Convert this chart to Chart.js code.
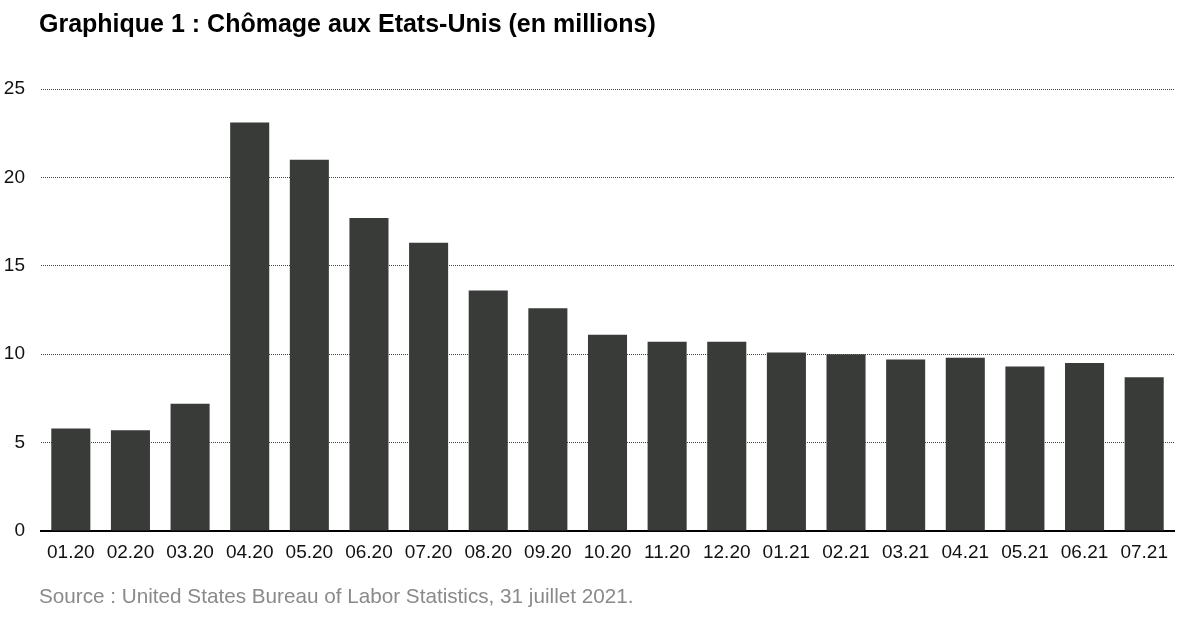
<!DOCTYPE html>
<html>
<head>
<meta charset="utf-8">
<script src="https://cdn.jsdelivr.net/npm/chart.js@4"></script>
<style>
  body { margin: 0; background: #fff; font-family: "Liberation Sans", Arial, sans-serif; }
  #wrap { position: relative; width: 1180px; height: 621px; }
  #title { position: absolute; left: 39px; top: 9px; font-size: 25px; font-weight: bold; color: #000; }
  #source { position: absolute; left: 39px; top: 584px; font-size: 20.7px; color: #8a8a8a; }
  canvas { position: absolute; left: 0; top: 0; }
</style>
</head>
<body>
<div id="wrap">
  <canvas id="chart1" width="1180" height="621"></canvas>
  <div id="title">Graphique 1 : Chômage aux Etats-Unis (en millions)</div>
  <div id="source">Source : United States Bureau of Labor Statistics, 31 juillet 2021.</div>
</div>
<script>
const months = ['01.20', '02.20', '03.20', '04.20', '05.20', '06.20', '07.20', '08.20', '09.20', '10.20',
                '11.20', '12.20', '01.21', '02.21', '03.21', '04.21', '05.21', '06.21', '07.21'];
const chomage = [5.8, 5.7, 7.2, 23.1, 21.0, 17.7, 16.3, 13.6, 12.6, 11.1,
                 10.7, 10.7, 10.1, 10.0, 9.7, 9.8, 9.3, 9.5, 8.7];

const ctx = document.querySelector('#chart1').getContext('2d');

new Chart(ctx, {
    type: 'bar',
    data: {
        labels: months,
        datasets: [{
            label: 'Chômage',
            data: chomage,
            backgroundColor: '#393b38',
            categoryPercentage: 0.655,
            barPercentage: 1
        }]
    },
    options: {
        responsive: false,
        animation: false,
        layout: {
            padding: { top: 89, right: 6, bottom: 60, left: 0 }
        },
        plugins: {
            legend: { display: false },
            tooltip: { enabled: false }
        },
        scales: {
            x: {
                grid: { display: false, drawTicks: false },
                border: { display: true, color: '#000', width: 2 },
                ticks: {
                    color: '#111',
                    padding: 10,
                    maxRotation: 0,
                    font: { family: 'Liberation Sans', size: 19 }
                },
                afterFit: scale => { scale.height = 30; }
            },
            y: {
                min: 0,
                max: 25,
                grid: {
                    color: '#444',
                    lineWidth: 1,
                    drawTicks: false
                },
                // v4: dash on the border options is used for the grid lines
                border: { display: false, dash: [1, 1] },
                ticks: {
                    stepSize: 5,
                    color: '#111',
                    padding: 16,
                    font: { family: 'Liberation Sans', size: 19 }
                },
                afterFit: scale => { scale.width = 41; }
            }
        }
    }
});
</script>
</body>
</html>
